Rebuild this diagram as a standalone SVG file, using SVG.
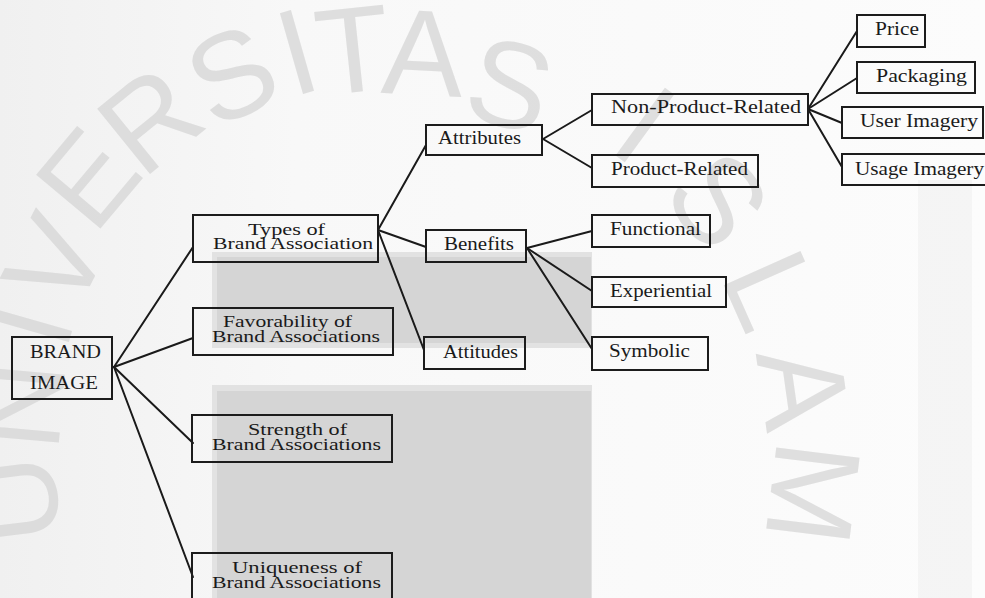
<svg xmlns="http://www.w3.org/2000/svg" width="985" height="598" viewBox="0 0 985 598">
<style>
.box{fill:none;stroke:#1c1c1c;stroke-width:2}
.t{font-family:"Liberation Serif","Times New Roman",serif;font-size:18px;fill:#1a1a1a}
.t2{font-family:"Liberation Serif","Times New Roman",serif;font-size:16px;fill:#1a1a1a}
.wm{font-family:"Liberation Sans",Arial,sans-serif;font-size:122px;fill:#d3d3d3;fill-opacity:0.7;text-anchor:middle;dominant-baseline:central}
#connectors line{stroke:#1a1a1a;stroke-width:2;stroke-linecap:round}
</style>
<defs>
<linearGradient id="bg" x1="0" y1="0" x2="1" y2="0">
<stop offset="0" stop-color="#f0f0f0"/>
<stop offset="0.3" stop-color="#f8f8f8"/>
<stop offset="1" stop-color="#fcfcfc"/>
</linearGradient>
</defs>
<rect x="0" y="0" width="985" height="598" fill="url(#bg)"/>
<rect x="918" y="180" width="54" height="418" fill="#e9e9e9" opacity="0.35"/>
<g id="watermark">
<text class="wm" transform="rotate(-97 15 500)" x="15" y="500">U</text>
<text class="wm" transform="rotate(-85 20 405)" x="20" y="405">N</text>
<text class="wm" transform="rotate(-74 30 325)" x="30" y="325">I</text>
<text class="wm" transform="rotate(-63 55 262)" x="55" y="262">V</text>
<text class="wm" transform="rotate(-50 88 178)" x="88" y="178">E</text>
<text class="wm" transform="rotate(-39 150 120)" x="150" y="120">R</text>
<text class="wm" transform="rotate(-26 232 75)" x="232" y="75">S</text>
<text class="wm" transform="rotate(-16 297 52)" x="297" y="52">I</text>
<text class="wm" transform="rotate(-6 353 50)" x="353" y="50">T</text>
<text class="wm" transform="rotate(3 423 53)" x="423" y="53">A</text>
<text class="wm" transform="rotate(15 510 85)" x="510" y="85">S</text>
<text class="wm" transform="rotate(36 645 125)" x="645" y="125">I</text>
<text class="wm" transform="rotate(51 718 200)" x="718" y="200">S</text>
<text class="wm" transform="rotate(66 772 290)" x="772" y="290">L</text>
<text class="wm" transform="rotate(82 803 388)" x="803" y="388">A</text>
<text class="wm" transform="rotate(97 813 493)" x="813" y="493">M</text>
</g>
<g id="shading">
<rect x="212" y="252" width="380" height="96" fill="#e2e2e2"/>
<rect x="217" y="257" width="374" height="86" fill="#d5d5d5"/>
<rect x="212" y="385" width="380" height="213" fill="#e2e2e2"/>
<rect x="217" y="391" width="374" height="207" fill="#d5d5d5"/>
</g>
<g id="connectors">
<line x1="114" y1="367" x2="193" y2="247"/>
<line x1="114" y1="367" x2="193" y2="338"/>
<line x1="114" y1="367" x2="193" y2="443"/>
<line x1="114" y1="367" x2="193" y2="577"/>
<line x1="378" y1="230" x2="426" y2="145"/>
<line x1="378" y1="230" x2="426" y2="247"/>
<line x1="378" y1="230" x2="424" y2="350"/>
<line x1="543" y1="139" x2="592" y2="110"/>
<line x1="543" y1="139" x2="592" y2="168"/>
<line x1="527" y1="248" x2="592" y2="231"/>
<line x1="527" y1="248" x2="592" y2="291"/>
<line x1="527" y1="248" x2="592" y2="349"/>
<line x1="808" y1="109" x2="857" y2="31"/>
<line x1="808" y1="109" x2="857" y2="78"/>
<line x1="808" y1="109" x2="842" y2="123"/>
<line x1="808" y1="109" x2="842" y2="167"/>
</g>
<g id="brand-image">
<rect class="box" x="12" y="337" width="100" height="62"/>
<text class="t" x="30" y="358" textLength="71" lengthAdjust="spacingAndGlyphs">BRAND</text>
<text class="t" x="30" y="389" textLength="68" lengthAdjust="spacingAndGlyphs">IMAGE</text>
</g>
<g id="types">
<rect class="box" x="193" y="215" width="185" height="47"/>
<text class="t2" x="248" y="235" textLength="77" lengthAdjust="spacingAndGlyphs">Types of</text>
<text class="t2" x="213" y="249" textLength="160" lengthAdjust="spacingAndGlyphs">Brand Association</text>
</g>
<g id="favorability">
<rect class="box" x="193" y="308" width="200" height="47"/>
<text class="t2" x="223" y="327" textLength="129" lengthAdjust="spacingAndGlyphs">Favorability of</text>
<text class="t2" x="212" y="342" textLength="168" lengthAdjust="spacingAndGlyphs">Brand Associations</text>
</g>
<g id="strength">
<rect class="box" x="192" y="415" width="200" height="47"/>
<text class="t2" x="248" y="435" textLength="99" lengthAdjust="spacingAndGlyphs">Strength of</text>
<text class="t2" x="212" y="450" textLength="169" lengthAdjust="spacingAndGlyphs">Brand Associations</text>
</g>
<g id="uniqueness">
<rect class="box" x="192" y="553" width="200" height="50"/>
<text class="t2" x="232" y="573" textLength="130" lengthAdjust="spacingAndGlyphs">Uniqueness of</text>
<text class="t2" x="212" y="588" textLength="169" lengthAdjust="spacingAndGlyphs">Brand Associations</text>
</g>
<g id="attributes">
<rect class="box" x="426" y="125" width="116" height="30"/>
<text class="t" x="438" y="144" textLength="83" lengthAdjust="spacingAndGlyphs">Attributes</text>
</g>
<g id="benefits">
<rect class="box" x="426" y="230" width="100" height="32"/>
<text class="t" x="444" y="250" textLength="70" lengthAdjust="spacingAndGlyphs">Benefits</text>
</g>
<g id="attitudes">
<rect class="box" x="424" y="337" width="101" height="32"/>
<text class="t" x="443" y="358" textLength="75" lengthAdjust="spacingAndGlyphs">Attitudes</text>
</g>
<g id="non-product-related">
<rect class="box" x="592" y="94" width="216" height="31"/>
<text class="t" x="611" y="113" textLength="190" lengthAdjust="spacingAndGlyphs">Non-Product-Related</text>
</g>
<g id="product-related">
<rect class="box" x="592" y="155" width="166" height="32"/>
<text class="t" x="611" y="175" textLength="137" lengthAdjust="spacingAndGlyphs">Product-Related</text>
</g>
<g id="functional">
<rect class="box" x="592" y="215" width="118" height="32"/>
<text class="t" x="610" y="235" textLength="91" lengthAdjust="spacingAndGlyphs">Functional</text>
</g>
<g id="experiential">
<rect class="box" x="592" y="277" width="134" height="30"/>
<text class="t" x="610" y="297" textLength="102" lengthAdjust="spacingAndGlyphs">Experiential</text>
</g>
<g id="symbolic">
<rect class="box" x="592" y="337" width="116" height="33"/>
<text class="t" x="609" y="357" textLength="81" lengthAdjust="spacingAndGlyphs">Symbolic</text>
</g>
<g id="price">
<rect class="box" x="857" y="15" width="68" height="32"/>
<text class="t" x="875" y="35" textLength="44" lengthAdjust="spacingAndGlyphs">Price</text>
</g>
<g id="packaging">
<rect class="box" x="857" y="62" width="118" height="31"/>
<text class="t" x="876" y="82" textLength="91" lengthAdjust="spacingAndGlyphs">Packaging</text>
</g>
<g id="user-imagery">
<rect class="box" x="842" y="107" width="141" height="31"/>
<text class="t" x="860" y="127" textLength="118" lengthAdjust="spacingAndGlyphs">User Imagery</text>
</g>
<g id="usage-imagery">
<rect class="box" x="842" y="154" width="150" height="31"/>
<text class="t" x="855" y="175" textLength="129" lengthAdjust="spacingAndGlyphs">Usage Imagery</text>
</g>
</svg>
